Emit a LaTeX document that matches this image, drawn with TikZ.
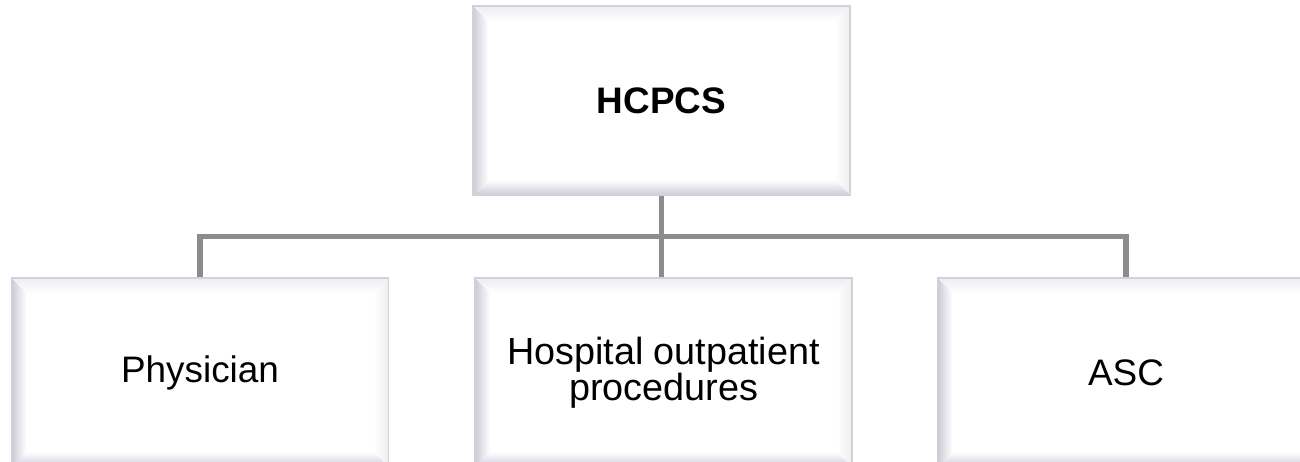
\documentclass[tikz,border=0pt]{standalone}
\usepackage{fontspec}
\setmainfont{Liberation Sans}
\usetikzlibrary{calc}

\definecolor{linkgray}{HTML}{8C8C8C}
\definecolor{rimgray}{HTML}{D2D2D6}
\definecolor{bevdark}{HTML}{CBCBD9}
\definecolor{bevlight}{HTML}{EDEDF2}

\tikzset{
  bevelbox/.style={draw=rimgray, line width=0.8pt, fill=white,
    minimum width=7.54cm, minimum height=3.78cm, inner sep=0pt,
    align=center, font=\fontsize{21}{22}\selectfont,
    path picture={
      \coordinate (bsw) at (path picture bounding box.south west);
      \coordinate (bne) at (path picture bounding box.north east);
      \coordinate (bnw) at (bsw |- bne);
      \coordinate (bse) at (bne |- bsw);
      % four bevel sides
      \shade[left color=bevdark, right color=white]
        (bsw) -- ++(0.3cm,0.3cm) -- ($(bnw)+(0.3cm,-0.3cm)$) -- (bnw) -- cycle;
      \shade[left color=white, right color=bevlight]
        (bse) -- ++(-0.3cm,0.3cm) -- ($(bne)+(-0.3cm,-0.3cm)$) -- (bne) -- cycle;
      \shade[top color=bevlight, bottom color=white]
        (bnw) -- ($(bnw)+(0.3cm,-0.3cm)$) -- ($(bne)+(-0.3cm,-0.3cm)$) -- (bne) -- cycle;
      \shade[top color=white, bottom color=bevdark]
        (bsw) -- ++(0.3cm,0.3cm) -- ($(bse)+(-0.3cm,0.3cm)$) -- (bse) -- cycle;
    }},
  link/.style={draw=linkgray, line width=3pt}
}

\begin{document}
\begin{tikzpicture}[x=0.02cm, y=-0.02cm]
\useasboundingbox (0,0) rectangle (1300,462);

% root and the three kinds
\node[bevelbox, font=\fontsize{21}{22}\selectfont\bfseries] (hcpcs) at (661.5,100.5) {HCPCS};
\node[bevelbox] (phys) at (200,372.5) {Physician};
\node[bevelbox, font=\fontsize{21.5}{22}\selectfont] (hosp) at (663.5,372.5) {Hospital outpatient\\[-1.5pt]procedures};
\node[bevelbox] (asc) at (1126,372.5) {ASC};

% connectors
\coordinate (bus) at ($(hcpcs.south)!0.5!(hcpcs.south |- hosp.north)$);
\draw[link] (hcpcs.south) -- (hcpcs.south |- hosp.north);
\draw[link] (phys.north) |- (bus) -| (asc.north);
\end{tikzpicture}
\end{document}
